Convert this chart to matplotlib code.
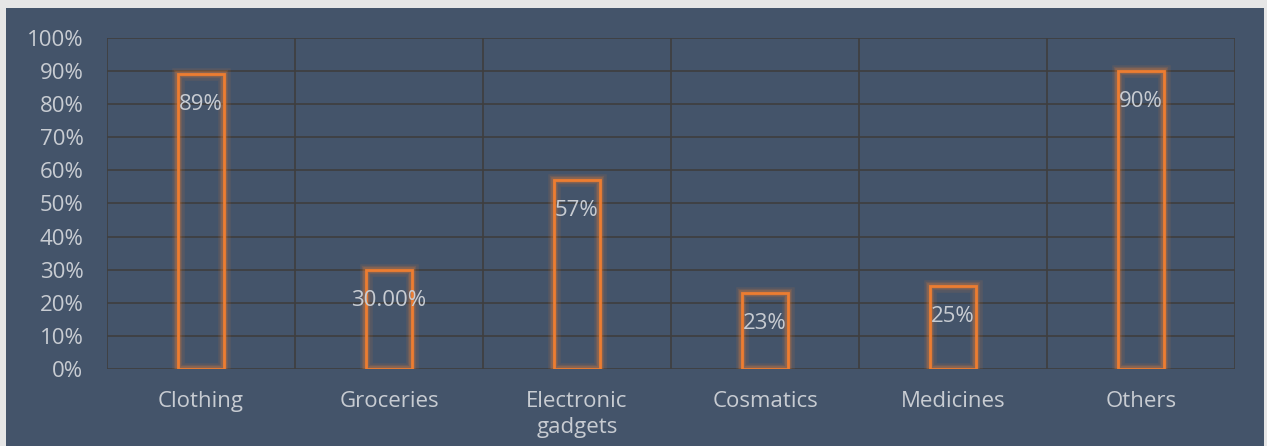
import matplotlib
matplotlib.use("Agg")
import matplotlib.pyplot as plt
import matplotlib.patheffects as pe
from matplotlib.ticker import FuncFormatter, MultipleLocator

categories = ["Clothing", "Groceries", "Electronic\ngadgets", "Cosmatics", "Medicines", "Others"]
values = [0.89, 0.30, 0.57, 0.23, 0.25, 0.90]
labels = ["89%", "30.00%", "57%", "23%", "25%", "90%"]

BG = "#44546A"
ORANGE = "#ED7D31"
TXT = "#C8CCD2"
GRID = "#3E3E3E"

plt.rcParams['font.family'] = ['Open Sans', 'DejaVu Sans']

fig = plt.figure(figsize=(12.67, 4.46), dpi=100)
fig.patch.set_facecolor("#E6E6E6")
# dark chart background panel (leaves thin light border top/left/right)
bgax = fig.add_axes([6/1267, 0, (1264-6)/1267, (446-8)/446])
bgax.set_facecolor(BG)
bgax.set_xticks([]); bgax.set_yticks([])
for s in bgax.spines.values():
    s.set_visible(False)

ax = fig.add_axes([107/1267, 1-369/446, (1235-107)/1267, (369-38)/446])
ax.set_facecolor("none")
x = list(range(len(categories)))
ax.set_xlim(-0.5, len(categories)-0.5)
ax.set_ylim(0, 1.0)

ax.yaxis.set_major_locator(MultipleLocator(0.1))
ax.yaxis.set_major_formatter(FuncFormatter(lambda v, p: f"{v*100:.0f}%"))
ax.set_xticks(x)
ax.set_xticklabels(categories, linespacing=1.3)
ax.tick_params(axis='both', length=0, colors=TXT, labelsize=16)
ax.tick_params(axis='x', pad=16)
ax.tick_params(axis='y', pad=17)
for lab in ax.get_yticklabels():
    lab.set_horizontalalignment('right')

# gridlines
ax.set_axisbelow(True)
ax.grid(axis='y', color=GRID, linewidth=1.2)
ax.set_xticks([i - 0.5 for i in range(len(categories)+1)], minor=True)
ax.grid(axis='x', which='minor', color=GRID, linewidth=1.2)
ax.tick_params(axis='x', which='minor', length=0)
for s in ax.spines.values():
    s.set_visible(False)

bars = ax.bar(x, values, width=0.245, facecolor="none", edgecolor=ORANGE, linewidth=2.0, zorder=3)
for b in bars:
    b.set_path_effects([
        pe.Stroke(linewidth=9, foreground=ORANGE, alpha=0.10),
        pe.Stroke(linewidth=6, foreground=ORANGE, alpha=0.15),
        pe.Stroke(linewidth=4, foreground=ORANGE, alpha=0.25),
        pe.Normal(),
    ])

for xi, v, lab in zip(x, values, labels):
    ax.annotate(lab, (xi, v), xytext=(0, -22), textcoords="offset points",
                ha="center", va="center", color=TXT, fontsize=16, zorder=4)

fig.savefig("out.png", dpi=100, facecolor=fig.get_facecolor())
